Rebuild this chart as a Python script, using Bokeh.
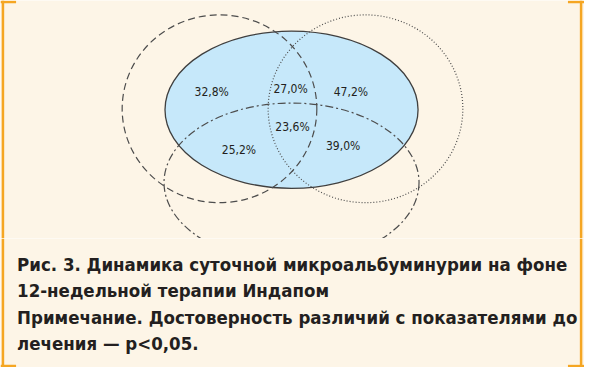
from bokeh.plotting import figure
from bokeh.layouts import column
from bokeh.models import Range1d, Span, ColumnDataSource
from bokeh.core.properties import value
from bokeh.embed import file_html
from bokeh.resources import INLINE

# ---------------- data ----------------
region_values = [32.8, 27.0, 47.2, 23.6, 25.2, 39.0]
region_labels = [f"{v:.1f}%".replace(".", ",") for v in region_values]
caption_lines = [
    "Рис. 3. Динамика суточной микроальбуминурии на фоне",
    "12-недельной терапии Индапом",
    "Примечание. Достоверность различий с показателями до",
    "лечения — p<0,05.",
]

# ---------------- layout (reference pixel space 600 x 383) ----------------
label_x = [217, 298, 360, 300, 245, 352]
label_y = [95, 92, 95, 132, 156, 152]
caption_x = 17
caption_y = [275, 303, 331, 358]

REF_W, REF_H = 600, 383
W, H = 584, 367
TOP_H = 238
BOT_H = H - TOP_H
split = TOP_H * REF_H / H

BG = "#fdf5e7"
ORANGE = "#f5a623"
LINE = "#4d4d4d"


def base(height, y0, y1):
    p = figure(width=W, height=height, output_backend="svg", toolbar_location=None,
               x_range=Range1d(0, REF_W), y_range=Range1d(y1, y0),
               min_border=0, min_border_left=0, min_border_right=0,
               min_border_top=0, min_border_bottom=0)
    p.axis.visible = False
    p.xgrid.visible = False
    p.ygrid.visible = False
    p.outline_line_color = None
    p.background_fill_color = BG
    p.border_fill_color = BG
    for xloc in (2.5, 596.5):
        p.add_layout(Span(location=xloc, dimension="height", line_color=ORANGE, line_width=2.5))
    return p


# ---------------- Venn part ----------------
top = base(TOP_H, 0, split)
top.ellipse(x=[299], y=[114], width=[260], height=[164],
            fill_color="#c6e8fa", line_color="#3f3f3f", line_width=1.3)
top.ellipse(x=[225], y=[113], width=[200], height=[196], fill_color=None,
            line_color=LINE, line_width=1.2, line_dash="7 4")
top.ellipse(x=[375], y=[113], width=[200], height=[196], fill_color=None,
            line_color=LINE, line_width=1.2, line_dash="1 2")
top.ellipse(x=[299], y=[190], width=[262], height=[166], fill_color=None,
            line_color=LINE, line_width=1.2, line_dash="8 3 2 3")
src = ColumnDataSource(dict(x=label_x, y=label_y, t=region_labels))
top.text(x="x", y="y", text="t", source=src, text_align="center", text_baseline="middle",
         text_font=value("DejaVu Sans Condensed"), text_font_size="12px", text_color="#231f20")
top.segment(x0=[0, 583], y0=[1.5, 1.5], x1=[16, 600], y1=[1.5, 1.5],
            line_color=ORANGE, line_width=2.5)

# ---------------- caption part ----------------
bot = base(BOT_H, split, REF_H)
bot.text(x=[caption_x] * len(caption_lines), y=caption_y, text=caption_lines,
         text_align="left", text_baseline="alphabetic",
         text_font=value("DejaVu Sans Condensed"), text_font_style="bold",
         text_font_size="18.5px", text_color="#231f20")
bot.segment(x0=[0, 583], y0=[381.5, 381.5], x1=[16, 600], y1=[381.5, 381.5],
            line_color=ORANGE, line_width=2.5)

layout = column(top, bot, spacing=0)
open("out.html", "w").write(file_html(layout, INLINE))
